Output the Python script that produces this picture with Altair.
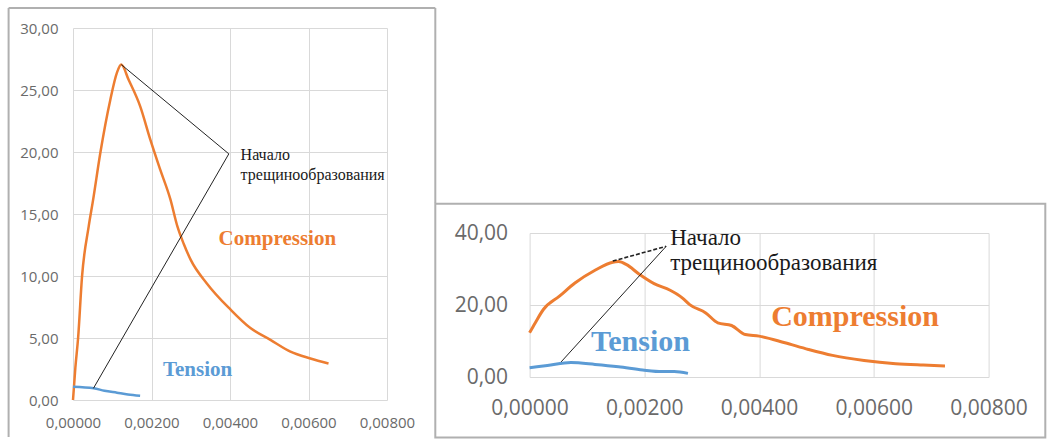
import altair as alt
import pandas as pd

# ---- data -------------------------------------------------------------
x_ticks = [0.0, 0.002, 0.004, 0.006, 0.008]
left_y_ticks = [0, 5, 10, 15, 20, 25, 30]
right_y_ticks = [0, 20, 40]

# Left panel: compression branch
left_comp_strain = [0.0, 0.00006, 0.00013, 0.00023, 0.00040, 0.00051, 0.00070, 0.00095,
                    0.00112, 0.00123, 0.00142, 0.00171, 0.00197, 0.00222, 0.00248, 0.00266,
                    0.00282, 0.00300, 0.00341, 0.00401, 0.00452, 0.00503, 0.00554, 0.00605,
                    0.00651]
left_comp_stress = [0.0, 2.6, 5.0, 9.95, 14.0, 16.1, 20.0, 24.2,
                    26.4, 27.05, 25.8, 23.7, 21.0, 18.6, 16.2, 14.0,
                    12.6, 11.3, 9.4, 7.3, 5.8, 4.85, 3.9, 3.35,
                    2.95]
# Left panel: tension branch
left_tens_strain = [0.0, 0.00053, 0.00080, 0.00112, 0.00140, 0.00171]
left_tens_stress = [1.07, 0.94, 0.75, 0.59, 0.45, 0.35]

# Right panel: compression branch
right_comp_strain = [0.0, 0.00010, 0.00024, 0.00052, 0.00079, 0.00114, 0.00145, 0.00155,
                     0.00169, 0.00190, 0.00217, 0.00245, 0.00266, 0.00279, 0.00307, 0.00328,
                     0.00352, 0.00376, 0.00400, 0.00445, 0.00486, 0.00528, 0.00583, 0.00638,
                     0.00686, 0.00724]
right_comp_stress = [12.3, 15.1, 18.75, 22.45, 26.1, 29.65, 31.9, 32.05,
                     31.2, 28.7, 25.95, 24.1, 22.0, 20.1, 17.8, 15.05,
                     14.3, 11.8, 11.35, 9.5, 7.65, 6.0, 4.6, 3.7,
                     3.3, 3.05]
# Right panel: tension branch
right_tens_strain = [0.0, 0.00031, 0.00072, 0.00114, 0.00155, 0.00197, 0.00231, 0.00252, 0.00276]
right_tens_stress = [2.6, 3.2, 4.0, 3.5, 2.85, 1.95, 1.5, 1.5, 1.0]

# Leader lines to the crack-initiation points
left_leader_strain = [0.00123, 0.00397, 0.00052]
left_leader_stress = [27.05, 19.85, 0.94]
right_leader_a_strain = [0.00145, 0.00238]
right_leader_a_stress = [32.2, 36.3]
right_leader_b_strain = [0.00238, 0.00055]
right_leader_b_stress = [36.3, 4.2]

label_top = "Начало"
label_bottom = "трещинообразования"

# ---- styling ----------------------------------------------------------
ORANGE = "#ED7D31"
BLUE = "#5B9BD5"
GRID = "#d9d9d9"
LABEL = "#6a6a6a"
FRAME = "#b0b0b0"
SERIF = "'Liberation Serif', 'DejaVu Serif Condensed', 'DejaVu Serif', serif"
SANS = "Open Sans"

one = pd.DataFrame({"k": [0]})


def axes(ymax, yticks, fs, xpad, ypad):
    x = alt.X("strain:Q",
              scale=alt.Scale(domain=[0, 0.008], nice=False, zero=False),
              axis=alt.Axis(values=x_ticks, title=None, domain=False, ticks=False,
                            grid=True, gridColor=GRID, gridWidth=1,
                            labelFont=SANS, labelFontSize=fs, labelColor=LABEL,
                            labelPadding=xpad, labelFlush=False,
                            labelExpr="replace(format(datum.value, '.5f'), '.', ',')"))
    y = alt.Y("stress:Q",
              scale=alt.Scale(domain=[0, ymax], nice=False),
              axis=alt.Axis(values=yticks, title=None, domain=False, ticks=False,
                            grid=True, gridColor=GRID, gridWidth=1,
                            labelFont=SANS, labelFontSize=fs, labelColor=LABEL,
                            labelPadding=ypad, labelFlush=False,
                            labelExpr="replace(format(datum.value, '.2f'), '.', ',')"))
    return x, y


def curve(strain, stress, color, width, x, y):
    df = pd.DataFrame({"strain": strain, "stress": stress})
    return alt.Chart(df).mark_line(color=color, strokeWidth=width,
                                   interpolate="monotone").encode(x=x, y=y)


def text(strain, stress, label, size, color, bold):
    df = pd.DataFrame({"strain": [strain], "stress": [stress], "t": [label]})
    return alt.Chart(df).mark_text(align="left", baseline="middle", font=SERIF,
                                   fontSize=size, color=color,
                                   fontWeight="bold" if bold else "normal").encode(
        x="strain:Q", y="stress:Q", text="t:N")


def rule(x1, y1, x2, y2):
    return alt.Chart(one).mark_rule(color=FRAME, strokeWidth=2).encode(
        x=alt.value(x1), y=alt.value(y1), x2=alt.value(x2), y2=alt.value(y2))


# ---- left panel -------------------------------------------------------
lx, ly = axes(30, left_y_ticks, 15, 15, 15)
left_leader = pd.DataFrame({"strain": left_leader_strain,
                            "stress": left_leader_stress,
                            "i": list(range(len(left_leader_strain)))})
left = alt.layer(
    rule(-64.4, -20, 362.3, -20),
    rule(-64.4, -20, -64.4, 409),
    rule(362.3, -20, 362.3, 175),
    curve(left_comp_strain, left_comp_stress, ORANGE, 2.5, lx, ly),
    curve(left_tens_strain, left_tens_stress, BLUE, 2.5, lx, ly),
    alt.Chart(left_leader).mark_line(color="#222222", strokeWidth=1).encode(
        x="strain:Q", y="stress:Q", order="i:Q"),
    text(0.00427, 19.77, label_top, 16, "#1a1a1a", False),
    text(0.00427, 18.15, label_bottom, 16, "#1a1a1a", False),
    text(0.00371, 12.97, "Compression", 21, ORANGE, True),
    text(0.00229, 2.42, "Tension", 21, BLUE, True),
).properties(width=314, height=372)

# ---- right panel ------------------------------------------------------
rx, ry = axes(40, right_y_ticks, 21, 20, 22)
right = alt.layer(
    alt.Chart(one).mark_rect(filled=False, stroke=FRAME, strokeWidth=2).encode(
        x=alt.value(-94.3), y=alt.value(-29.3), x2=alt.value(515.7), y2=alt.value(204.4)),
    curve(right_comp_strain, right_comp_stress, ORANGE, 3, rx, ry),
    curve(right_tens_strain, right_tens_stress, BLUE, 3, rx, ry),
    alt.Chart(pd.DataFrame({"strain": right_leader_a_strain,
                            "stress": right_leader_a_stress})).mark_line(
        color="#222222", strokeWidth=1.6, strokeDash=[4, 2]).encode(x="strain:Q", y="stress:Q"),
    alt.Chart(pd.DataFrame({"strain": right_leader_b_strain,
                            "stress": right_leader_b_stress})).mark_line(
        color="#222222", strokeWidth=1).encode(x="strain:Q", y="stress:Q"),
    text(0.00245, 38.6, label_top, 23, "#1a1a1a", False),
    text(0.00245, 31.65, label_bottom, 23, "#1a1a1a", False),
    text(0.00421, 16.8, "Compression", 30, ORANGE, True),
    text(0.00107, 9.8, "Tension", 30, BLUE, True),
).properties(width=459, height=144)

spacer = alt.Chart(one).mark_point(opacity=0).encode(
    x=alt.value(0), y=alt.value(0)).properties(width=1, height=205)

chart = alt.hconcat(
    left,
    alt.vconcat(spacer, right, spacing=0, bounds="flush"),
    spacing=142.6, bounds="flush",
).properties(
    padding={"left": 7, "top": 7, "right": 0, "bottom": 0},
    background="white",
).configure_view(stroke=None)

chart.save("out.html", embed_options={"renderer": "svg", "actions": False})
